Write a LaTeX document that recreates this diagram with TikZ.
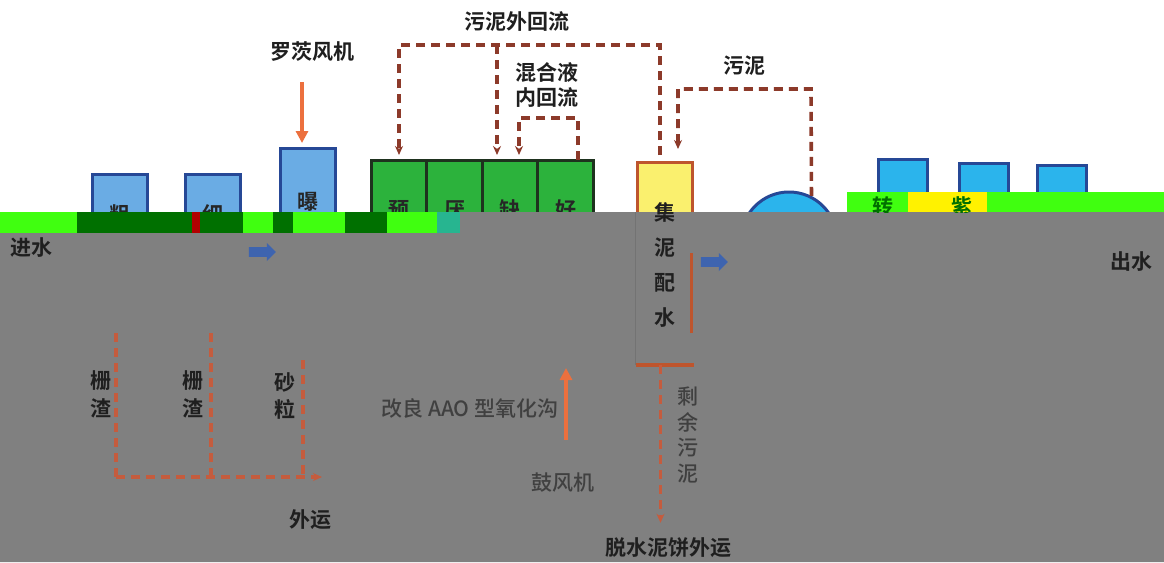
\documentclass[tikz,border=0pt]{standalone}
\usepackage{fontspec}
\newfontfamily\cjk{Noto Sans CJK SC Medium}
\newfontfamily\cjkb{Noto Sans CJK SC Bold}
\usetikzlibrary{positioning}
\usetikzlibrary{arrows.meta}
\usetikzlibrary{shapes.arrows}
\definecolor{edgeblue}{RGB}{38,72,150}
\definecolor{fillblue}{RGB}{106,172,228}
\definecolor{fillcyan}{RGB}{43,180,236}
\definecolor{fillgreen}{RGB}{44,178,60}
\definecolor{edgegreen}{RGB}{30,50,30}
\definecolor{fillyellow}{RGB}{250,240,110}
\definecolor{edgerust}{RGB}{190,85,45}
\definecolor{dashrust}{RGB}{140,58,42}
\definecolor{dashlight}{RGB}{196,92,62}
\definecolor{airorange}{RGB}{236,112,62}
\definecolor{flowblue}{RGB}{62,100,175}
\definecolor{junkgrey}{RGB}{128,128,128}
\definecolor{bandlime}{RGB}{64,255,16}
\definecolor{banddark}{RGB}{0,112,0}
\tikzset{
        boxnode/.style={align=center, inner sep=0pt, anchor=north, font=\cjkb\fontsize{21}{24}\selectfont},
        % Screen and grit tanks
        tank_blue/.style={boxnode, draw=edgeblue, line width=3pt, fill=fillblue, minimum width=55pt, text=black!85},
        % Filter and disinfection tanks
        tank_cyan/.style={boxnode, draw=edgeblue, line width=3pt, fill=fillcyan, minimum width=49pt},
        % Oxidation ditch cells
        cell_green/.style={boxnode, draw=edgegreen, line width=3pt, outer sep=0pt, fill=fillgreen, minimum width=55.5pt, minimum height=100pt, text=black!85},
        % Sludge collection and distribution well
        tank_yellow/.style={boxnode, draw=edgerust, line width=3pt, fill=fillyellow, minimum width=55pt, minimum height=201pt},
        % Secondary clarifier
        clarifier_round/.style={circle, draw=edgeblue, line width=3pt, fill=fillcyan, minimum size=96pt, inner sep=0pt},
        % Labels
        text_bold/.style={inner sep=0pt, align=center, text=black!88, font=\cjkb\fontsize{21}{25}\selectfont},
        text_soft/.style={inner sep=0pt, align=center, text=black!75, font=\cjk\fontsize{21}{25}\selectfont},
        % Sludge and residue lines
        return_dashed/.style={draw=dashrust, line width=3.6pt, dash pattern=on 9pt off 6pt, -{Stealth[length=9pt,width=8pt]}},
        % Air supply
        air_arrow/.style={draw=airorange, line width=4.5pt, -{Triangle[length=12pt,width=12pt]}},
        % Water flow
        water_arrow/.style={single arrow, fill=flowblue, minimum height=27pt, minimum width=18pt, single arrow head extend=4pt, inner sep=4.5pt}
}
\begin{document}
\begin{tikzpicture}[x=1pt, y=-1pt]
        \useasboundingbox (0,0) rectangle (1164,562);
        \fill[white] (0,0) rectangle (1164,562);
        % tanks
        \node[tank_blue, minimum height=80pt] (screen_coarse) at (119.5,173) {粗};
        \node[tank_blue, minimum height=80pt] (screen_fine) at (213,173) {细};
        \node[tank_blue, minimum height=106pt] (grit_tank) at (307.5,147) {曝};
        \node[cell_green] (cell_pre) at (399,160) {预};
        \node[cell_green, right=0pt of cell_pre] (cell_ana) {厌};
        \node[cell_green, right=0pt of cell_ana] (cell_lack) {缺};
        \node[cell_green, right=0pt of cell_lack] (cell_good) {好};
        \node[tank_yellow] (jini) at (664.5,161) {};
        \node[clarifier_round] (clarifier) at (789,240) {};
        \node[tank_cyan, minimum height=60pt] (filter) at (902.5,158) {};
        \node[tank_cyan, minimum height=60pt] (disinfect) at (984,162) {};
        \node[tank_cyan, minimum height=60pt] (outlet_well) at (1061.5,164) {};
        % damaged lower part
        \fill[junkgrey] (0,233) -- (460,233) -- (460,212) -- (1164,212) -- (1164,562) -- (0,562) -- cycle;
        \fill[bandlime] (0,212) rectangle (460,233);
        \fill[banddark] (77,212) rectangle (243,233);
        \fill[red!70!black] (192,212) rectangle (200,233);
        \fill[banddark] (273,212) rectangle (293,233);
        \fill[banddark] (345,212) rectangle (387,233);
        \fill[cyan!40!bandlime] (437,212) rectangle (460,233);
        \fill[bandlime] (847,192) rectangle (1164,212);
        \fill[yellow] (908,192) rectangle (987,212);
        \begin{scope}
            \clip (847,192) rectangle (1164,212);
            \node[text_bold, text=banddark] (filter_txt) at (883,207) {转};
            \node[text_bold, text=banddark] (disinfect_txt) at (962,207) {紫};
        \end{scope}
        % well edges on grey
        \draw[black!55, line width=1pt] (jini.west |- 0,212) -- (jini.south west);
        \draw[edgerust, line width=3pt] ([shift={(-2,-32)}]jini.south east) -- ([shift={(-2,-112)}]jini.south east);
        \draw[edgerust, line width=3.5pt] (jini.south west) -- (jini.south east);
        % labels
        \node[text_bold] (inflow) at (31,248) {进水};
        \node[text_bold] (outflow) at (1131,262) {出水};
        \node[text_bold] (roots) at (312,52) {罗茨风机};
        \node[text_bold] (ext_label) at (517,22) {污泥外回流};
        \node[text_bold] (int_label) at (547,85) {混合液\\内回流};
        \node[text_bold] (sludge_label) at (744,66) {污泥};
        \node[text_bold, font=\cjkb\fontsize{21}{35}\selectfont] (jini_txt) at (665,265) {集\\泥\\配\\水};
        \node[text_bold, font=\cjkb\fontsize{21}{28}\selectfont] (screen_a_txt) at (101,394) {栅\\渣};
        \node[text_bold, font=\cjkb\fontsize{21}{28}\selectfont] (screen_b_txt) at (193,394) {栅\\渣};
        \node[text_bold, font=\cjkb\fontsize{21}{27}\selectfont] (grit_txt) at (285,396) {砂\\粒};
        \node[text_bold] (haul_txt) at (310,520) {外运};
        \node[text_soft] (ditch_txt) at (470,408) {改良 AAO 型氧化沟};
        \node[text_soft] (blower_txt) at (563,483) {鼓风机};
        \node[text_soft, font=\cjk\fontsize{21}{25.5}\selectfont] (waste_txt) at (688,435) {剩\\余\\污\\泥};
        \node[text_bold] (cake_txt) at (668,548) {脱水泥饼外运};
        % flow arrows
        \node[water_arrow] (flow_a) at (260,252) {};
        \node[water_arrow] (flow_b) at (712,262) {};
        \coordinate (roots_low) at (302,82);
        \draw[air_arrow, shorten >=4pt] (roots_low) -- (roots_low |- grit_tank.north);
        \coordinate (air_low) at (566,440);
        \coordinate (air_top) at (566,368);
        \draw[air_arrow] (air_low) -- (air_top);
        % sludge return lines
        \coordinate (ext_r) at (660,45);
        \coordinate (ext_mid) at (497,45);
        \draw[return_dashed, shorten >=5pt] (jini.north -| ext_r) ++(0,-6) -- (ext_r) -| (cell_pre.north);
        \draw[return_dashed, shorten >=5pt] (ext_mid) -- (ext_mid |- cell_lack.north);
        \coordinate (int_r) at (578,118);
        \coordinate (int_l) at (519,118);
        \draw[return_dashed, shorten >=5pt] (int_r |- cell_good.north) -- (int_r) -- (int_l) -- (int_l |- cell_lack.north);
        \coordinate (sl_r) at (811,89);
        \coordinate (sl_l) at (678,89);
        \draw[return_dashed, shorten >=12pt] (clarifier.63) -- (sl_r) -- (sl_l) -- (sl_l |- jini.north);
        \draw[return_dashed, draw=dashlight, shorten >=15pt] ([xshift=-4pt]jini.south) -- ([xshift=-4pt]jini.south |- cake_txt.north);
        % screenings and grit haul-off
        \coordinate (scr_a) at (116,333);
        \coordinate (scr_b) at (211,333);
        \coordinate (grit_c) at (303,360);
        \coordinate (haul_l) at (116,477);
        \coordinate (haul_r) at (322,477);
        \draw[return_dashed, draw=dashlight, -] (scr_a) -- (haul_l);
        \draw[return_dashed, draw=dashlight, -] (scr_b) -- (scr_b |- haul_l);
        \draw[return_dashed, draw=dashlight, -] (grit_c) -- (grit_c |- haul_l);
        \draw[return_dashed, draw=dashlight] (haul_l) -- (haul_r);
\end{tikzpicture}
\end{document}
